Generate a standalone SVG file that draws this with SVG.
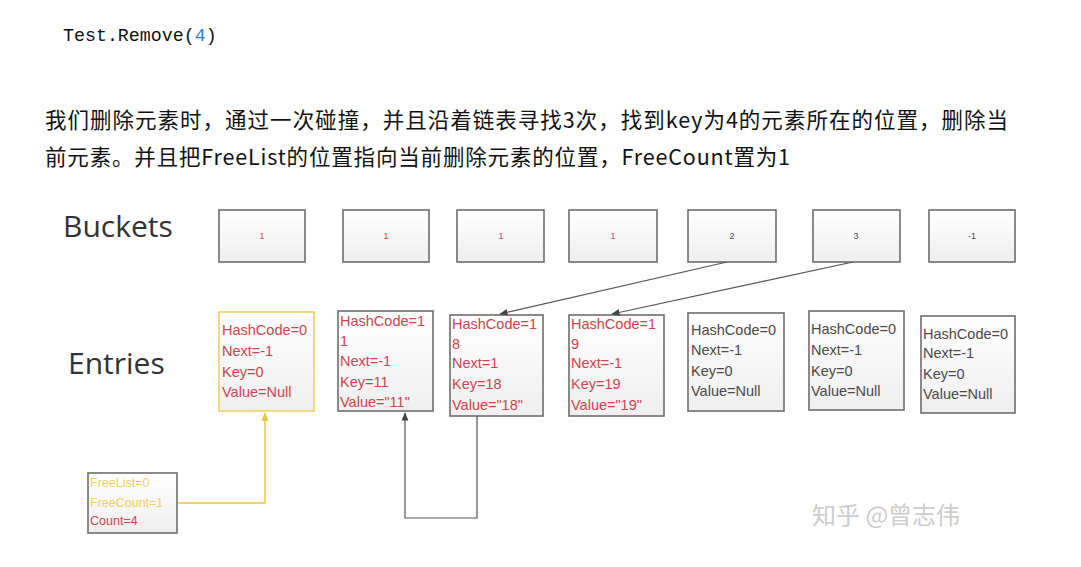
<svg xmlns="http://www.w3.org/2000/svg" width="1081" height="567" viewBox="0 0 1081 567">
<style>
.code{font-family:"Liberation Mono","DejaVu Sans Mono",monospace;font-size:18.3px;fill:#111}
.para{font-family:"Noto Sans CJK SC","Noto Sans",sans-serif;font-size:21.5px;fill:#111}
.big{font-family:"Open Sans","Liberation Sans",sans-serif;font-size:30px;fill:#333}
.box{fill:url(#g);stroke:#6e6e6e;stroke-width:1.6}
.ybox{fill:url(#g);stroke:#f0d060;stroke-width:1.6}
.bl{font-family:"Liberation Sans",sans-serif;font-size:9px;text-anchor:middle}
.et{font-family:"Liberation Sans",sans-serif;font-size:14.5px}
.red{fill:#cc4452}
.gry{fill:#4a4a4a}
.ft{font-family:"Liberation Sans",sans-serif;font-size:12.5px}
.conn{fill:none;stroke:#555;stroke-width:1.2}
.yconn{fill:none;stroke:#f0c840;stroke-width:1.5}
.wm{font-family:"Noto Sans CJK SC",sans-serif;font-size:24px;fill:#cccccc}
</style>
<defs>
<linearGradient id="g" x1="0" y1="0" x2="0" y2="1"><stop offset="0" stop-color="#ffffff"/><stop offset="1" stop-color="#efefef"/></linearGradient>
<marker id="ah" viewBox="0 0 10 10" refX="9" refY="5" markerWidth="7" markerHeight="7" orient="auto-start-reverse"><path d="M0,1 L10,5 L0,9 z" fill="#444"/></marker>
<marker id="yah" viewBox="0 0 10 10" refX="9" refY="5" markerWidth="6" markerHeight="6" orient="auto-start-reverse"><path d="M0,1 L10,5 L0,9 z" fill="#f0c840"/></marker>
</defs>
<rect width="1081" height="567" fill="#fff"/>
<text class="code" x="63" y="41">Test.Remove(<tspan fill="#2a7de1">4</tspan>)</text>
<text class="para" x="45" y="128" textLength="963" lengthAdjust="spacing">我们删除元素时，通过一次碰撞，并且沿着链表寻找3次，找到key为4的元素所在的位置，删除当</text>
<text class="para" x="45" y="165" textLength="745" lengthAdjust="spacing">前元素。并且把FreeList的位置指向当前删除元素的位置，FreeCount置为1</text>
<text class="big" x="63" y="237">Buckets</text>
<text class="big" x="68" y="374">Entries</text>
<g id="buckets">
<g id="b1"><rect class="box" x="219" y="210" width="86" height="52"/><text class="bl red" x="262" y="239">1</text></g>
<g id="b2"><rect class="box" x="343" y="210" width="86" height="52"/><text class="bl red" x="386" y="239">1</text></g>
<g id="b3"><rect class="box" x="457" y="210" width="87" height="52"/><text class="bl red" x="501" y="239">1</text></g>
<g id="b4"><rect class="box" x="569" y="210" width="88" height="52"/><text class="bl red" x="613" y="239">1</text></g>
<g id="b5"><rect class="box" x="688" y="210" width="88" height="52"/><text class="bl gry" x="732" y="239">2</text></g>
<g id="b6"><rect class="box" x="813" y="210" width="87" height="52"/><text class="bl gry" x="856" y="239">3</text></g>
<g id="b7"><rect class="box" x="929" y="210" width="86" height="52"/><text class="bl gry" x="972" y="239">-1</text></g>
</g>
<g id="entries">
<g id="e1"><rect class="ybox" x="219" y="312" width="95" height="99"/>
<text class="et red"><tspan x="222" y="335">HashCode=0</tspan><tspan x="222" y="356">Next=-1</tspan><tspan x="222" y="377">Key=0</tspan><tspan x="222" y="397">Value=Null</tspan></text></g>
<g id="e2"><rect class="box" x="338" y="311" width="95" height="100"/>
<text class="et red"><tspan x="340" y="326">HashCode=1</tspan><tspan x="340" y="346">1</tspan><tspan x="340" y="366">Next=-1</tspan><tspan x="340" y="387">Key=11</tspan><tspan x="340" y="407">Value="11"</tspan></text></g>
<g id="e3"><rect class="box" x="450" y="315" width="93" height="101"/>
<text class="et red"><tspan x="452" y="329">HashCode=1</tspan><tspan x="452" y="349">8</tspan><tspan x="452" y="368">Next=1</tspan><tspan x="452" y="389">Key=18</tspan><tspan x="452" y="410">Value="18"</tspan></text></g>
<g id="e4"><rect class="box" x="569" y="315" width="95" height="101"/>
<text class="et red"><tspan x="571" y="329">HashCode=1</tspan><tspan x="571" y="349">9</tspan><tspan x="571" y="368">Next=-1</tspan><tspan x="571" y="389">Key=19</tspan><tspan x="571" y="410">Value="19"</tspan></text></g>
<g id="e5"><rect class="box" x="688" y="313" width="96" height="98"/>
<text class="et gry"><tspan x="691" y="335">HashCode=0</tspan><tspan x="691" y="355">Next=-1</tspan><tspan x="691" y="376">Key=0</tspan><tspan x="691" y="396">Value=Null</tspan></text></g>
<g id="e6"><rect class="box" x="809" y="311" width="95" height="99"/>
<text class="et gry"><tspan x="811" y="334">HashCode=0</tspan><tspan x="811" y="355">Next=-1</tspan><tspan x="811" y="376">Key=0</tspan><tspan x="811" y="396">Value=Null</tspan></text></g>
<g id="e7"><rect class="box" x="921" y="316" width="94" height="97"/>
<text class="et gry"><tspan x="923" y="339">HashCode=0</tspan><tspan x="923" y="358">Next=-1</tspan><tspan x="923" y="379">Key=0</tspan><tspan x="923" y="399">Value=Null</tspan></text></g>
</g>
<g id="freelist"><rect class="box" x="88" y="473" width="89" height="60"/>
<text class="ft"><tspan x="90" y="487" fill="#f0d060">FreeList=0</tspan><tspan x="90" y="507" fill="#f0d060">FreeCount=1</tspan><tspan x="90" y="525" fill="#cc4452">Count=4</tspan></text></g>
<g id="connectors">
<path class="conn" d="M727,262 L500,314" marker-end="url(#ah)"/>
<path class="conn" d="M853,262 L612,314" marker-end="url(#ah)"/>
<path class="conn" d="M477,416 L477,518 L405,518 L405,413" marker-end="url(#ah)"/>
<path class="yconn" d="M178,503 L265,503 L265,413" marker-end="url(#yah)"/>
</g>
<text class="wm" x="812" y="524">知乎 @曾志伟</text>
</svg>
